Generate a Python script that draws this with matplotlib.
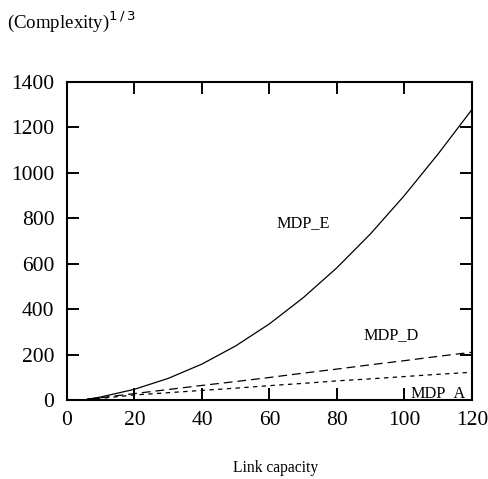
import matplotlib
matplotlib.use("Agg")
import matplotlib.pyplot as plt

plt.rcParams['font.family'] = ['Liberation Serif', 'DejaVu Serif']
plt.rcParams['mathtext.fontset'] = 'dejavusans'

# link capacity vs cube root of complexity
capacity = [6, 10, 20, 30, 40, 50, 60, 70, 80, 90, 100, 110, 120]
mdp_e = [3, 13, 47, 95, 158, 238, 335, 450, 582, 732, 900, 1083, 1278]
mdp_d = [3, 10, 28, 46, 64, 81, 99, 118, 136, 155, 173, 192, 210]
mdp_a = [3, 7, 22, 32, 42, 52, 63, 73, 84, 93, 103, 113, 122]

x_ticks = [0, 20, 40, 60, 80, 100, 120]
y_ticks = [0, 200, 400, 600, 800, 1000, 1200, 1400]

fig = plt.figure(figsize=(4.89, 4.79), dpi=100)
ax = fig.add_axes([0.137, 0.165, 0.828, 0.664])

ax.plot(capacity, mdp_e, color='black', lw=0.9, ls='-')
ax.plot(capacity, mdp_d, color='black', lw=0.9, dashes=(7, 4))
ax.plot(capacity, mdp_a, color='black', lw=0.9, dashes=(3.5, 3.5))

ax.text(70, 780, 'MDP_E', fontsize=11.7, ha='center', va='center')
ax.text(96, 286, 'MDP_D', fontsize=11.7, ha='center', va='center')
ax.text(110, 30, 'MDP_A', fontsize=11.7, ha='center', va='center')

ax.set_xlim(0, 120)
ax.set_ylim(0, 1400)
ax.set_xticks(x_ticks)
ax.set_yticks(y_ticks)
ax.tick_params(direction='in', length=8.5, width=1.4, labelsize=15.5,
               top=True, right=True)
ax.tick_params(axis='x', pad=8)
ax.tick_params(axis='y', pad=9)
for s in ax.spines.values():
    s.set_linewidth(1.5)

fig.text(0.563, 1 - 472 / 479, 'Link capacity', fontsize=11.2,
         ha='center', va='baseline')
fig.text(0.014, 1 - 28 / 479, r'(Complexity)$^{1\,/\,3}$', fontsize=13.6,
         ha='left', va='baseline')

fig.savefig('out.png', dpi=100)
